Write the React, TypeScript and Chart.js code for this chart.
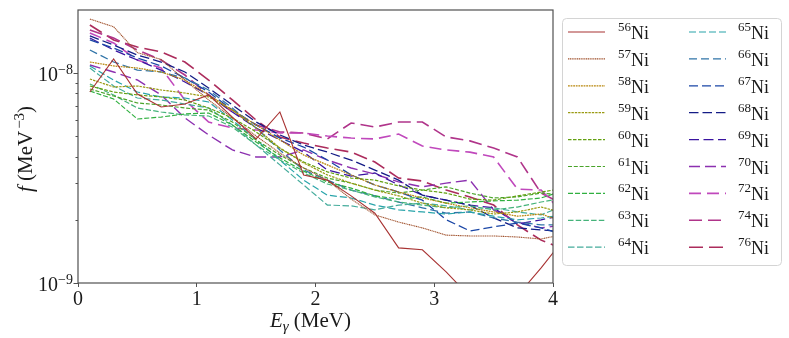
import { useEffect, useRef } from 'react';
import { Chart, registerables } from 'chart.js';

Chart.register(...registerables);

// Gamma energies (MeV) of the strength-function points
const energies = [0.1, 0.3, 0.5, 0.7, 0.9, 1.1, 1.3, 1.5, 1.7, 1.9, 2.1, 2.3, 2.5, 2.7, 2.9, 3.1, 3.3, 3.5, 3.7, 3.9, 4.1];

// Mass numbers of the Ni isotopes
const isotopes = ['56', '57', '58', '59', '60', '61', '62', '63', '64', '65', '66', '67', '68', '69', '70', '72', '74', '76'];

// f (MeV^-3) for each isotope
const ni56 = [8.12e-9, 11.66e-9, 7.94e-9, 6.89e-9, 7.12e-9, 7.86e-9, 6.17e-9, 4.85e-9, 6.52e-9, 3.27e-9, 3.09e-9, 2.60e-9, 2.15e-9, 1.47e-9, 1.44e-9, 1.13e-9, 0.86e-9, 0.80e-9, 0.87e-9, 1.18e-9, 1.64e-9];
const ni57 = [18.07e-9, 16.6e-9, 12.5e-9, 11.6e-9, 9.26e-9, 7.44e-9, 6.11e-9, 5.01e-9, 4.16e-9, 3.53e-9, 3.09e-9, 2.51e-9, 2.11e-9, 1.95e-9, 1.83e-9, 1.69e-9, 1.675e-9, 1.675e-9, 1.656e-9, 1.62e-9, 1.71e-9];
const ni58 = [11.28e-9, 10.80e-9, 10.56e-9, 10.11e-9, 9.26e-9, 7.86e-9, 6.66e-9, 5.66e-9, 4.80e-9, 4.07e-9, 3.65e-9, 3.27e-9, 2.93e-9, 2.71e-9, 2.54e-9, 2.40e-9, 2.28e-9, 2.18e-9, 2.08e-9, 2.13e-9, 1.95e-9];
const ni59 = [9.36e-9, 8.58e-9, 8.67e-9, 8.30e-9, 8.03e-9, 7.69e-9, 6.66e-9, 5.47e-9, 4.39e-9, 3.73e-9, 3.27e-9, 2.99e-9, 2.77e-9, 2.60e-9, 2.40e-9, 2.28e-9, 2.23e-9, 2.13e-9, 2.18e-9, 2.30e-9, 2.15e-9];
const ni60 = [8.67e-9, 8.12e-9, 7.86e-9, 7.69e-9, 7.44e-9, 6.81e-9, 6.11e-9, 5.24e-9, 4.39e-9, 3.77e-9, 3.38e-9, 3.16e-9, 3.09e-9, 2.90e-9, 2.77e-9, 2.68e-9, 2.51e-9, 2.48e-9, 2.60e-9, 2.71e-9, 2.83e-9];
const ni61 = [8.39e-9, 7.77e-9, 7.20e-9, 7.04e-9, 6.81e-9, 6.66e-9, 5.84e-9, 4.80e-9, 4.07e-9, 3.53e-9, 3.16e-9, 2.99e-9, 2.77e-9, 2.68e-9, 2.77e-9, 2.87e-9, 2.68e-9, 2.54e-9, 2.57e-9, 2.68e-9, 2.62e-9];
const ni62 = [8.21e-9, 7.52e-9, 6.04e-9, 6.17e-9, 6.38e-9, 6.45e-9, 5.66e-9, 4.69e-9, 3.94e-9, 3.41e-9, 3.03e-9, 2.83e-9, 2.60e-9, 2.51e-9, 2.57e-9, 2.40e-9, 2.43e-9, 2.46e-9, 2.48e-9, 2.54e-9, 2.77e-9];
const ni63 = [8.86e-9, 7.86e-9, 6.81e-9, 6.52e-9, 6.31e-9, 6.24e-9, 5.53e-9, 4.54e-9, 3.85e-9, 3.34e-9, 2.96e-9, 2.77e-9, 2.57e-9, 2.43e-9, 2.35e-9, 2.28e-9, 2.33e-9, 2.23e-9, 2.30e-9, 2.43e-9, 2.54e-9];
const ni64 = [10.56e-9, 8.67e-9, 7.60e-9, 7.44e-9, 7.12e-9, 6.81e-9, 5.66e-9, 4.54e-9, 3.65e-9, 2.93e-9, 2.35e-9, 2.33e-9, 2.23e-9, 2.35e-9, 2.40e-9, 2.33e-9, 2.23e-9, 2.28e-9, 2.18e-9, 2.11e-9, 2.35e-9];
const ni65 = [10.80e-9, 9.26e-9, 8.12e-9, 7.69e-9, 7.60e-9, 7.28e-9, 5.97e-9, 4.80e-9, 3.85e-9, 3.09e-9, 2.62e-9, 2.54e-9, 2.35e-9, 2.23e-9, 2.18e-9, 2.13e-9, 2.18e-9, 2.08e-9, 2.00e-9, 2.04e-9, 2.11e-9];
const ni66 = [12.87e-9, 11.28e-9, 10.33e-9, 10.11e-9, 9.47e-9, 8.30e-9, 6.81e-9, 5.47e-9, 4.30e-9, 3.45e-9, 3.09e-9, 2.77e-9, 2.60e-9, 2.43e-9, 2.28e-9, 2.15e-9, 2.18e-9, 2.04e-9, 1.95e-9, 1.89e-9, 1.89e-9];
const ni67 = [14.36e-9, 13.15e-9, 11.79e-9, 10.80e-9, 9.47e-9, 8.12e-9, 6.66e-9, 5.66e-9, 4.90e-9, 4.44e-9, 3.85e-9, 3.27e-9, 2.93e-9, 2.71e-9, 2.48e-9, 2.00e-9, 1.77e-9, 1.85e-9, 1.93e-9, 1.83e-9, 1.69e-9];
const ni68 = [15.01e-9, 13.59e-9, 12.18e-9, 11.28e-9, 10.11e-9, 8.48e-9, 7.04e-9, 5.84e-9, 5.07e-9, 4.54e-9, 4.20e-9, 3.85e-9, 3.45e-9, 3.09e-9, 2.62e-9, 2.48e-9, 2.35e-9, 2.04e-9, 1.83e-9, 1.79e-9, 1.75e-9];
const ni69 = [14.68e-9, 12.87e-9, 11.53e-9, 10.33e-9, 9.06e-9, 7.86e-9, 6.52e-9, 5.47e-9, 4.80e-9, 4.20e-9, 3.45e-9, 3.23e-9, 3.34e-9, 2.93e-9, 2.62e-9, 2.48e-9, 2.35e-9, 2.28e-9, 1.91e-9, 2.00e-9, 2.11e-9];
const ni70 = [10.92e-9, 10.11e-9, 9.26e-9, 7.86e-9, 6.11e-9, 5.07e-9, 4.30e-9, 3.98e-9, 3.98e-9, 4.30e-9, 3.85e-9, 3.53e-9, 3.30e-9, 3.03e-9, 2.87e-9, 2.99e-9, 3.09e-9, 2.23e-9, 1.95e-9, 1.83e-9, 1.89e-9];
const ni72 = [15.51e-9, 13.90e-9, 11.53e-9, 10.56e-9, 7.44e-9, 5.84e-9, 5.47e-9, 5.35e-9, 5.18e-9, 5.18e-9, 5.01e-9, 4.90e-9, 4.85e-9, 5.12e-9, 4.49e-9, 4.30e-9, 4.20e-9, 3.98e-9, 2.80e-9, 2.77e-9, 2.11e-9];
const ni74 = [16.02e-9, 14.68e-9, 12.87e-9, 11.53e-9, 9.78e-9, 7.86e-9, 6.52e-9, 5.66e-9, 5.24e-9, 5.18e-9, 4.85e-9, 5.78e-9, 5.53e-9, 5.84e-9, 5.84e-9, 4.96e-9, 4.75e-9, 4.39e-9, 3.98e-9, 2.68e-9, 2.35e-9];
const ni76 = [16.93e-9, 14.36e-9, 13.30e-9, 12.59e-9, 11.28e-9, 9.26e-9, 7.44e-9, 5.97e-9, 4.96e-9, 4.64e-9, 4.39e-9, 4.20e-9, 3.77e-9, 3.16e-9, 3.06e-9, 2.77e-9, 2.57e-9, 2.35e-9, 1.89e-9, 1.60e-9, 1.44e-9];

const seriesValues = [ni56, ni57, ni58, ni59, ni60, ni61, ni62, ni63, ni64, ni65, ni66, ni67, ni68, ni69, ni70, ni72, ni74, ni76];

// Axis ticks
const xTickValues = [0, 1, 2, 3, 4];
const yTickValues = [1e-9, 2e-9, 3e-9, 4e-9, 5e-9, 6e-9, 7e-9, 8e-9, 9e-9, 1e-8];
const yTickLabels = [['10', '\u22129'], ['10', '\u22128']];

// Styles
const colors = ['#a83232', '#a0522d', '#b8860b', '#9a9a12', '#62a010', '#4aa42a', '#30b040', '#45b37a', '#45ac9c', '#28a4aa', '#3074a8', '#1a46a6', '#141c86', '#3a14a0', '#8c30b0', '#c048bc', '#b0348a', '#ac2c5c'];
const dashes = [[], [1.2, 0.6], [1.8, 0.8], [2.4, 1], [3.5, 1.5], [4, 1.8], [5, 2], [5.5, 2.2], [6.5, 2.5], [7, 3], [8, 4], [9, 4], [9.5, 4], [10, 4.5], [11, 5], [12, 6], [13, 6], [14, 6]];
const widths = [1.1, 1.1, 1.2, 1.2, 1.2, 1.2, 1.2, 1.2, 1.2, 1.2, 1.3, 1.3, 1.3, 1.3, 1.4, 1.6, 1.6, 1.6];

const SERIF = '"Liberation Serif", "DejaVu Serif", serif';

const decorPlugin = {
  id: 'decor',
  afterDraw(chart: any) {
    const { ctx, chartArea: a, scales } = chart;
    const ys = scales.y;
    ctx.save();
    ctx.fillStyle = '#1a1a1a';
    ctx.strokeStyle = '#505050';
    // frame
    ctx.lineWidth = 1.2;
    ctx.strokeRect(a.left, a.top, a.right - a.left, a.bottom - a.top);
    // y ticks
    ctx.lineWidth = 1;
    yTickValues.forEach((v) => {
      const p = Math.round(ys.getPixelForValue(v)) + 0.5;
      const lg = Math.log10(v);
      const major = Math.abs(lg - Math.round(lg)) < 1e-6;
      const len = major ? 4.5 : 2.5;
      ctx.beginPath();
      ctx.moveTo(a.left - len, p);
      ctx.lineTo(a.left, p);
      ctx.stroke();
    });
    // y labels (decades)
    const decades = yTickValues.filter((v) => Math.abs(Math.log10(v) - Math.round(Math.log10(v))) < 1e-6);
    decades.forEach((v, i) => {
      const p = ys.getPixelForValue(v);
      const [base, sup] = yTickLabels[i];
      ctx.font = '14px ' + SERIF;
      const ws = ctx.measureText(sup).width;
      ctx.font = '20px ' + SERIF;
      const wb = ctx.measureText(base).width;
      const right = a.left - 5;
      ctx.textBaseline = 'alphabetic';
      ctx.textAlign = 'left';
      ctx.fillText(base, right - ws - wb, p + 8);
      ctx.font = '14px ' + SERIF;
      ctx.fillText(sup, right - ws, p + 1);
    });
    // x title
    ctx.textAlign = 'left';
    ctx.textBaseline = 'alphabetic';
    let x = 270;
    ctx.font = 'italic 21px ' + SERIF;
    ctx.fillText('E', x, 327);
    x += ctx.measureText('E').width;
    ctx.font = 'italic 15px ' + SERIF;
    ctx.fillText('\u03b3', x, 331);
    x += ctx.measureText('\u03b3').width + 5;
    ctx.font = '21px ' + SERIF;
    ctx.fillText('(MeV)', x, 327);
    // y title
    const parts: [string, string, number][] = [
      ['f', 'italic 21px ' + SERIF, 0],
      [' (MeV', '21px ' + SERIF, 0],
      ['\u22123', '15px ' + SERIF, -8],
      [')', '21px ' + SERIF, 0],
    ];
    let total = 0;
    parts.forEach(([t, f]) => {
      ctx.font = f;
      total += ctx.measureText(t).width + (t === ' (MeV' ? 2 : 0);
    });
    ctx.translate(32, 149 + total / 2);
    ctx.rotate(-Math.PI / 2);
    let tx = 0;
    parts.forEach(([t, f, dy]) => {
      ctx.font = f;
      ctx.fillText(t, tx, dy);
      tx += ctx.measureText(t).width + (t === ' (MeV' ? 2 : 0);
    });
    ctx.setTransform(1, 0, 0, 1, 0, 0);
    // legend
    ctx.fillStyle = 'rgba(255,255,255,0.85)';
    ctx.strokeStyle = '#d4d4d4';
    ctx.lineWidth = 1;
    ctx.beginPath();
    ctx.roundRect(562.5, 18.5, 219, 247, 4);
    ctx.fill();
    ctx.stroke();
    const rowH = 26.9;
    isotopes.forEach((iso, i) => {
      const col = i < 9 ? 0 : 1;
      const row = i % 9;
      const yy = 32 + row * rowH;
      const x0 = col ? 689 : 568;
      const tX = col ? 738 : 618;
      ctx.strokeStyle = colors[i];
      ctx.lineWidth = widths[i];
      ctx.setLineDash(dashes[i]);
      ctx.beginPath();
      ctx.moveTo(x0, yy);
      ctx.lineTo(x0 + 37, yy);
      ctx.stroke();
      ctx.setLineDash([]);
      ctx.fillStyle = '#1a1a1a';
      ctx.font = '13px ' + SERIF;
      ctx.fillText(iso, tX, yy - 1);
      const w = ctx.measureText(iso).width;
      ctx.font = '18px ' + SERIF;
      ctx.fillText('Ni', tX + w, yy + 7);
    });
    ctx.restore();
  },
};

export default function App() {
  const ref = useRef<HTMLCanvasElement | null>(null);
  useEffect(() => {
    if (!ref.current) return;
    const datasets = seriesValues.map((vals, i) => ({
      label: isotopes[i] + 'Ni',
      data: energies.map((e, k) => ({ x: e, y: vals[k] })),
      borderColor: colors[i],
      backgroundColor: colors[i],
      borderWidth: widths[i],
      borderDash: dashes[i],
      pointRadius: 0,
      tension: 0,
      fill: false,
    }));
    const chart = new Chart(ref.current, {
      type: 'line',
      data: { datasets },
      plugins: [decorPlugin],
      options: {
        animation: false,
        responsive: false,
        events: [],
        layout: { padding: { left: 0, top: 10, right: 236, bottom: 0 } },
        plugins: { legend: { display: false }, tooltip: { enabled: false } },
        scales: {
          x: {
            type: 'linear',
            min: 0,
            max: 4,
            afterFit: (s: any) => { s.height = 55; },
            afterBuildTicks: (s: any) => { s.ticks = xTickValues.map((v) => ({ value: v })); },
            border: { display: false },
            grid: { drawOnChartArea: false, drawTicks: true, tickLength: 4, tickColor: '#505050', lineWidth: 1 },
            ticks: {
              color: '#1a1a1a',
              font: { family: SERIF, size: 20 },
              padding: 1,
              maxRotation: 0,
              callback: (v: any) => String(v),
            },
          },
          y: {
            type: 'logarithmic',
            min: 1e-9,
            max: 1.995e-8,
            afterFit: (s: any) => { s.width = 78; },
            afterBuildTicks: (s: any) => { s.ticks = yTickValues.map((v) => ({ value: v })); },
            border: { display: false },
            grid: { display: false },
            ticks: { display: false },
          },
        },
      },
    });
    return () => chart.destroy();
  }, []);
  return (
    <div style={{ position: 'fixed', left: 0, top: 0, width: 789, height: 338, background: '#fff' }}>
      <canvas ref={ref} width={789} height={338} style={{ display: 'block' }} />
    </div>
  );
}
